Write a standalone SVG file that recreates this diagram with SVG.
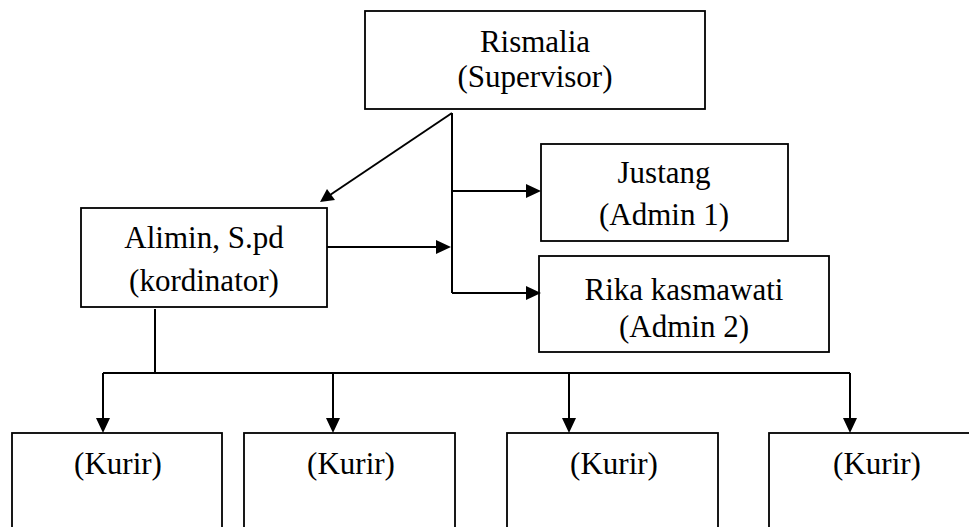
<svg xmlns="http://www.w3.org/2000/svg" width="969" height="527" viewBox="0 0 969 527">
<defs>
<style>
.box{fill:#fff;stroke:#000;stroke-width:1.8}
.t{font-family:"Liberation Serif",Tinos,"Times New Roman",Times,serif;font-size:31px;fill:#000;text-anchor:middle}
.c{fill:none;stroke:#000;stroke-width:2}
.ah{fill:#000;stroke:none}
</style>
</defs>
<rect width="969" height="527" fill="#fff"/>
<g id="supervisor">
<rect class="box" x="365" y="11" width="340" height="98"/>
<text class="t" x="535" y="52">Rismalia</text>
<text class="t" x="535" y="87">(Supervisor)</text>
</g>
<g id="kordinator">
<rect class="box" x="81" y="208" width="246" height="99"/>
<text class="t" x="204" y="248">Alimin, S.pd</text>
<text class="t" x="204" y="291">(kordinator)</text>
</g>
<g id="admin1">
<rect class="box" x="541" y="144" width="247" height="97"/>
<text class="t" x="664" y="183">Justang</text>
<text class="t" x="664" y="225">(Admin 1)</text>
</g>
<g id="admin2">
<rect class="box" x="539" y="256" width="290" height="96"/>
<text class="t" x="684" y="300">Rika kasmawati</text>
<text class="t" x="684" y="337">(Admin 2)</text>
</g>
<g id="kurir1">
<rect class="box" x="12" y="433" width="210" height="110"/>
<text class="t" x="118" y="474">(Kurir)</text>
</g>
<g id="kurir2">
<rect class="box" x="244" y="433" width="211" height="110"/>
<text class="t" x="351" y="474">(Kurir)</text>
</g>
<g id="kurir3">
<rect class="box" x="507" y="433" width="211" height="110"/>
<text class="t" x="614" y="474">(Kurir)</text>
</g>
<g id="kurir4">
<rect class="box" x="769" y="433" width="216" height="110"/>
<text class="t" x="877" y="474">(Kurir)</text>
</g>
<g id="connectors">
<path class="c" d="M452,113 L452,293"/>
<path class="c" d="M452,113 L330,195"/>
<polygon class="ah" points="320,202 327,189 335,200"/>
<path class="c" d="M327,247 L438,247"/>
<polygon class="ah" points="451,247 436,240 436,254"/>
<path class="c" d="M452,191 L528,191"/>
<polygon class="ah" points="541,191 526,184 526,198"/>
<path class="c" d="M452,293 L528,293"/>
<polygon class="ah" points="541,293 526,286 526,300"/>
<path class="c" d="M155,309 L155,373"/>
<path class="c" d="M103,373 L850,373"/>
<path class="c" d="M103,373 L103,420"/>
<polygon class="ah" points="103,433 96,418 110,418"/>
<path class="c" d="M333,373 L333,420"/>
<polygon class="ah" points="333,433 326,418 340,418"/>
<path class="c" d="M569,373 L569,420"/>
<polygon class="ah" points="569,433 562,418 576,418"/>
<path class="c" d="M850,373 L850,420"/>
<polygon class="ah" points="850,433 843,418 857,418"/>
</g>
</svg>
